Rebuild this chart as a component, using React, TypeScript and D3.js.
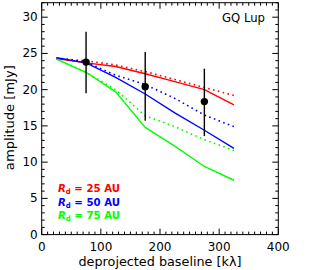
import React from 'react';
import * as d3 from 'd3';

// baselines where the models were evaluated (kλ)
const baselines = [25, 75, 125, 175, 225, 275, 325];

const red25Solid = [24.3, 23.7, 23.2, 22.2, 21.1, 20.0, 17.9];
const red25Dotted = [24.3, 24.0, 23.4, 22.5, 21.4, 20.3, 19.2];
const blue50Solid = [24.4, 23.7, 21.7, 19.4, 16.8, 14.4, 11.9];
const blue50Dotted = [24.4, 23.8, 22.0, 20.7, 18.8, 16.5, 14.9];
const green75Solid = [24.2, 22.4, 19.7, 14.8, 12.2, 9.4, 7.5];
const green75Dotted = [24.2, 22.4, 20.0, 16.4, 14.9, 13.1, 11.6];

// observed points
const obsX = [75, 175, 275];
const obsY = [23.8, 20.4, 18.35];
const obsLo = [19.5, 15.7, 13.6];
const obsHi = [28.0, 25.2, 22.9];

const xTicks = [0, 100, 200, 300, 400];
const yTicks = [0, 5, 10, 15, 20, 25, 30];

const legendRadii = ['25', '50', '75'];
const legendColors = ['#ff0000', '#0000ff', '#00ff00'];

const W = 320;
const H = 270;
const m = { left: 41.7, right: 278.3, top: 2.7, bottom: 234.6 };

const App: React.FC = () => {
  const x = d3.scaleLinear().domain([0, 400]).range([m.left, m.right]);
  const y = d3.scaleLinear().domain([0, 32]).range([m.bottom, m.top]);

  const line = d3.line<number>()
    .x((_, i) => x(baselines[i]))
    .y(d => y(d));

  const series = [
    { v: red25Solid, c: '#ff0000', dot: false },
    { v: red25Dotted, c: '#ff0000', dot: true },
    { v: blue50Solid, c: '#0000ff', dot: false },
    { v: blue50Dotted, c: '#0000ff', dot: true },
    { v: green75Solid, c: '#00ff00', dot: false },
    { v: green75Dotted, c: '#00ff00', dot: true },
  ];

  const xMinor = d3.range(0, 401, 10).filter(v => v % 100 !== 0);
  const yMinor = d3.range(0, 33, 1).filter(v => v % 5 !== 0);
  const major = 6;
  const minor = 3;
  const font = '"DejaVu Sans", "Liberation Sans", sans-serif';

  return (
    <svg width={W} height={H} style={{ position: 'absolute', left: 0, top: 0 }}>
      <rect width={W} height={H} fill="#fff" />

      {/* model curves */}
      {series.map((s, i) => (
        <path key={i} d={line(s.v) || ''} fill="none" stroke={s.c}
          strokeWidth={s.dot ? 1.6 : 1.4}
          strokeDasharray={s.dot ? '1.6 3.4' : undefined} />
      ))}

      {/* observations */}
      {obsX.map((v, i) => (
        <g key={i}>
          <line x1={x(v)} x2={x(v)} y1={y(obsLo[i])} y2={y(obsHi[i])} stroke="#000" strokeWidth={1.4} />
          <circle cx={x(v)} cy={y(obsY[i])} r={3.7} fill="#000" />
        </g>
      ))}

      {/* frame */}
      <rect x={m.left} y={m.top} width={m.right - m.left} height={m.bottom - m.top}
        fill="none" stroke="#000" strokeWidth={1} />

      {/* x ticks, bottom and top, inward */}
      {xTicks.map(t => (
        <g key={'xt' + t}>
          <line x1={x(t)} x2={x(t)} y1={m.bottom} y2={m.bottom - major} stroke="#000" />
          <line x1={x(t)} x2={x(t)} y1={m.top} y2={m.top + major} stroke="#000" />
          <text x={x(t)} y={m.bottom + 16.5} textAnchor="middle" fontFamily={font} fontSize={12}>{t}</text>
        </g>
      ))}
      {xMinor.map(t => (
        <g key={'xm' + t}>
          <line x1={x(t)} x2={x(t)} y1={m.bottom} y2={m.bottom - minor} stroke="#000" />
          <line x1={x(t)} x2={x(t)} y1={m.top} y2={m.top + minor} stroke="#000" />
        </g>
      ))}

      {/* y ticks, left and right, inward */}
      {yTicks.map(t => (
        <g key={'yt' + t}>
          <line x1={m.left} x2={m.left + major} y1={y(t)} y2={y(t)} stroke="#000" />
          <line x1={m.right} x2={m.right - major} y1={y(t)} y2={y(t)} stroke="#000" />
          <text x={m.left - 4} y={y(t) + 4} textAnchor="end" fontFamily={font} fontSize={12}>{t}</text>
        </g>
      ))}
      {yMinor.map(t => (
        <g key={'ym' + t}>
          <line x1={m.left} x2={m.left + minor} y1={y(t)} y2={y(t)} stroke="#000" />
          <line x1={m.right} x2={m.right - minor} y1={y(t)} y2={y(t)} stroke="#000" />
        </g>
      ))}

      {/* axis titles */}
      <text x={(m.left + m.right) / 2} y={266} textAnchor="middle" fontFamily={font} fontSize={12.5}
        textLength={163} lengthAdjust="spacingAndGlyphs">deprojected baseline [kλ]</text>
      <text transform={`translate(14, ${(m.top + m.bottom) / 2 - 1}) rotate(-90)`} textAnchor="middle"
        fontFamily={font} fontSize={12.5} textLength={105} lengthAdjust="spacingAndGlyphs">amplitude [mJy]</text>

      <text x={265} y={22} textAnchor="end" fontFamily={font} fontSize={12}
        textLength={43} lengthAdjust="spacingAndGlyphs">GQ Lup</text>

      {/* legend */}
      {legendRadii.map((r, i) => (
        <text key={r} x={58} y={192 + i * 13.5} fill={legendColors[i]} fontFamily={font}
          fontSize={11} fontWeight="bold" textLength={62} lengthAdjust="spacingAndGlyphs">
          <tspan fontStyle="italic">R</tspan>
          <tspan fontSize={7.5} dy={2}>d</tspan>
          <tspan dy={-2}>{` = ${r} AU`}</tspan>
        </text>
      ))}
    </svg>
  );
};

export default App;
